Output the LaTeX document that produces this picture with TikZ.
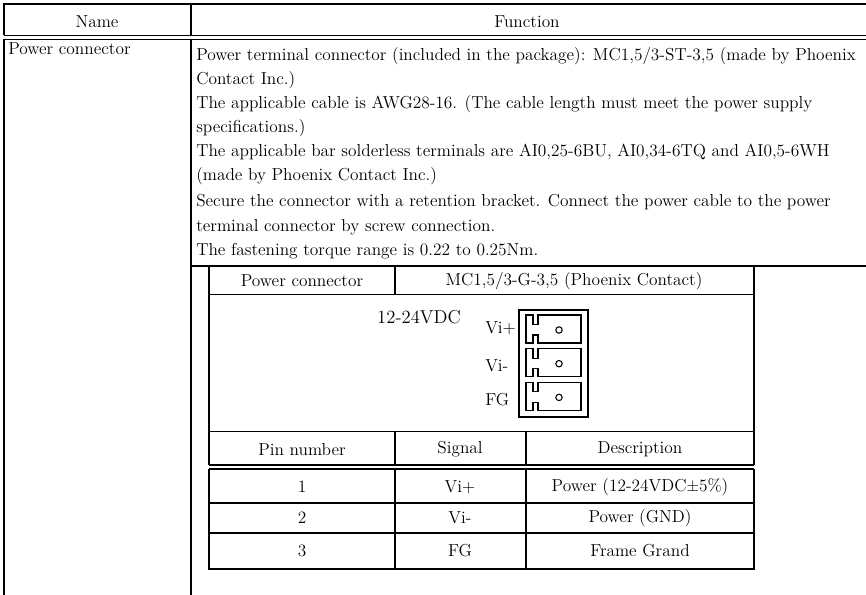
\documentclass[tikz,border=0pt]{standalone}
\usepackage{tikz}
\usetikzlibrary{positioning,calc}
\tikzset{
    rule/.style={black,line width=1pt},
    thinrule/.style={black,line width=0.8pt},
    celltext/.style={inner sep=0pt,font=\fontsize{13}{15}\selectfont},
    fntext/.style={celltext,anchor=base west},
}

\begin{document}
\begin{tikzpicture}[x=0.75pt,y=-0.75pt]
    \useasboundingbox (0,0) rectangle (866,595);

    % outer table
    \draw[rule] (4,595) -- (4,39.5);
    \draw[rule] (4,35.5) -- (4,4) -- (866,4);
    \draw[rule] (4,35.5) -- (866,35.5);
    \draw[rule] (4,39.5) -- (866,39.5);
    \draw[rule] (191,4) -- (191,35.5);
    \draw[rule] (191,39.5) -- (191,595);
    \draw[rule] (191,266) -- (866,266);

    \node[celltext] (NameHead) at (97,21.5) {Name};
    \node[celltext] (FunctionHead) at (527,21.5) {Function};
    \node[fntext] (NameCell) at (8,55) {Power connector};

    % function text
    \foreach \y/\txt [count=\i from 0] in {
        61/{Power terminal connector (included in the package): MC1,5/3-ST-3,5 (made by Phoenix},
        85/{Contact Inc.)},
        109/{The applicable cable is AWG28-16. (The cable length must meet the power supply},
        133/{specifications.)},
        157/{The applicable bar solderless terminals are AI0,25-6BU, AI0,34-6TQ and AI0,5-6WH},
        181/{(made by Phoenix Contact Inc.)},
        207/{Secure the connector with a retention bracket. Connect the power cable to the power},
        231/{terminal connector by screw connection.},
        255/{The fastening torque range is 0.22 to 0.25Nm.}}
    {
        \node[fntext] (FnLine\i) at (196,\y) {\txt};
    }

    % inner table
    \draw[rule] (209,266) -- (209,465);
    \draw[rule] (209,469) -- (209,569) -- (754,569) -- (754,469);
    \draw[rule] (754,465) -- (754,266);
    \draw[rule] (209,294.5) -- (754,294.5);
    \draw[rule] (209,431.5) -- (754,431.5);
    \draw[rule] (209,465) -- (754,465);
    \draw[rule] (209,469) -- (754,469);
    \draw[rule] (209,503) -- (754,503);
    \draw[rule] (209,533) -- (754,533);
    \draw[rule] (395,266) -- (395,294.5);
    \draw[rule] (395,431.5) -- (395,465);
    \draw[rule] (395,469) -- (395,569);
    \draw[rule] (526,431.5) -- (526,465);
    \draw[rule] (526,469) -- (526,569);

    \node[celltext] (ConnHead) at (302,281) {Power connector};
    \node[celltext] (PartHead) at (574,281) {MC1,5/3-G-3,5 (Phoenix Contact)};
    \node[celltext] (PinHead) at (302,449.5) {Pin number};
    \node[celltext] (SignalHead) at (460,449.5) {Signal};
    \node[celltext] (DescHead) at (640,449.5) {Description};
    \foreach \num/\sig/\desc/\y in {1/Vi+/{Power (12-24VDC$\pm$5\%)}/487, 2/Vi-/{Power (GND)}/518, 3/FG/{Frame Grand}/551}
    {
        \node[celltext] (Pin\num) at (302,\y) {\num};
        \node[celltext] (Signal\num) at (460,\y) {\sig};
        \node[celltext] (Desc\num) at (640,\y) {\desc};
    }

    % connector drawing
    \node[celltext,font=\fontsize{14}{16}\selectfont] (Voltage) at (419,317) {12-24VDC};
    \draw[thinrule] (519,310) rectangle (588,417);
    \foreach \pin/\lab/\y/\laby in {1/Vi+/315/328, 2/Vi-/348.7/366, 3/FG/382.4/400}
    {
        \draw[thinrule] (581,\y) -- (538,\y) -- ++(0,9.5) -- ++(-5,0) -- ++(0,-9.5) -- ++(-7,0)
            -- ++(0,28) -- ++(7,0) -- ++(0,-8) -- ++(5,0) -- ++(0,8) -- ++(43,0) -- cycle;
        \draw[thinrule] (559,\y+15) circle (3.2);
        \node[celltext,anchor=west] (Term\pin) at (485,\laby) {\lab};
    }
\end{tikzpicture}
\end{document}
